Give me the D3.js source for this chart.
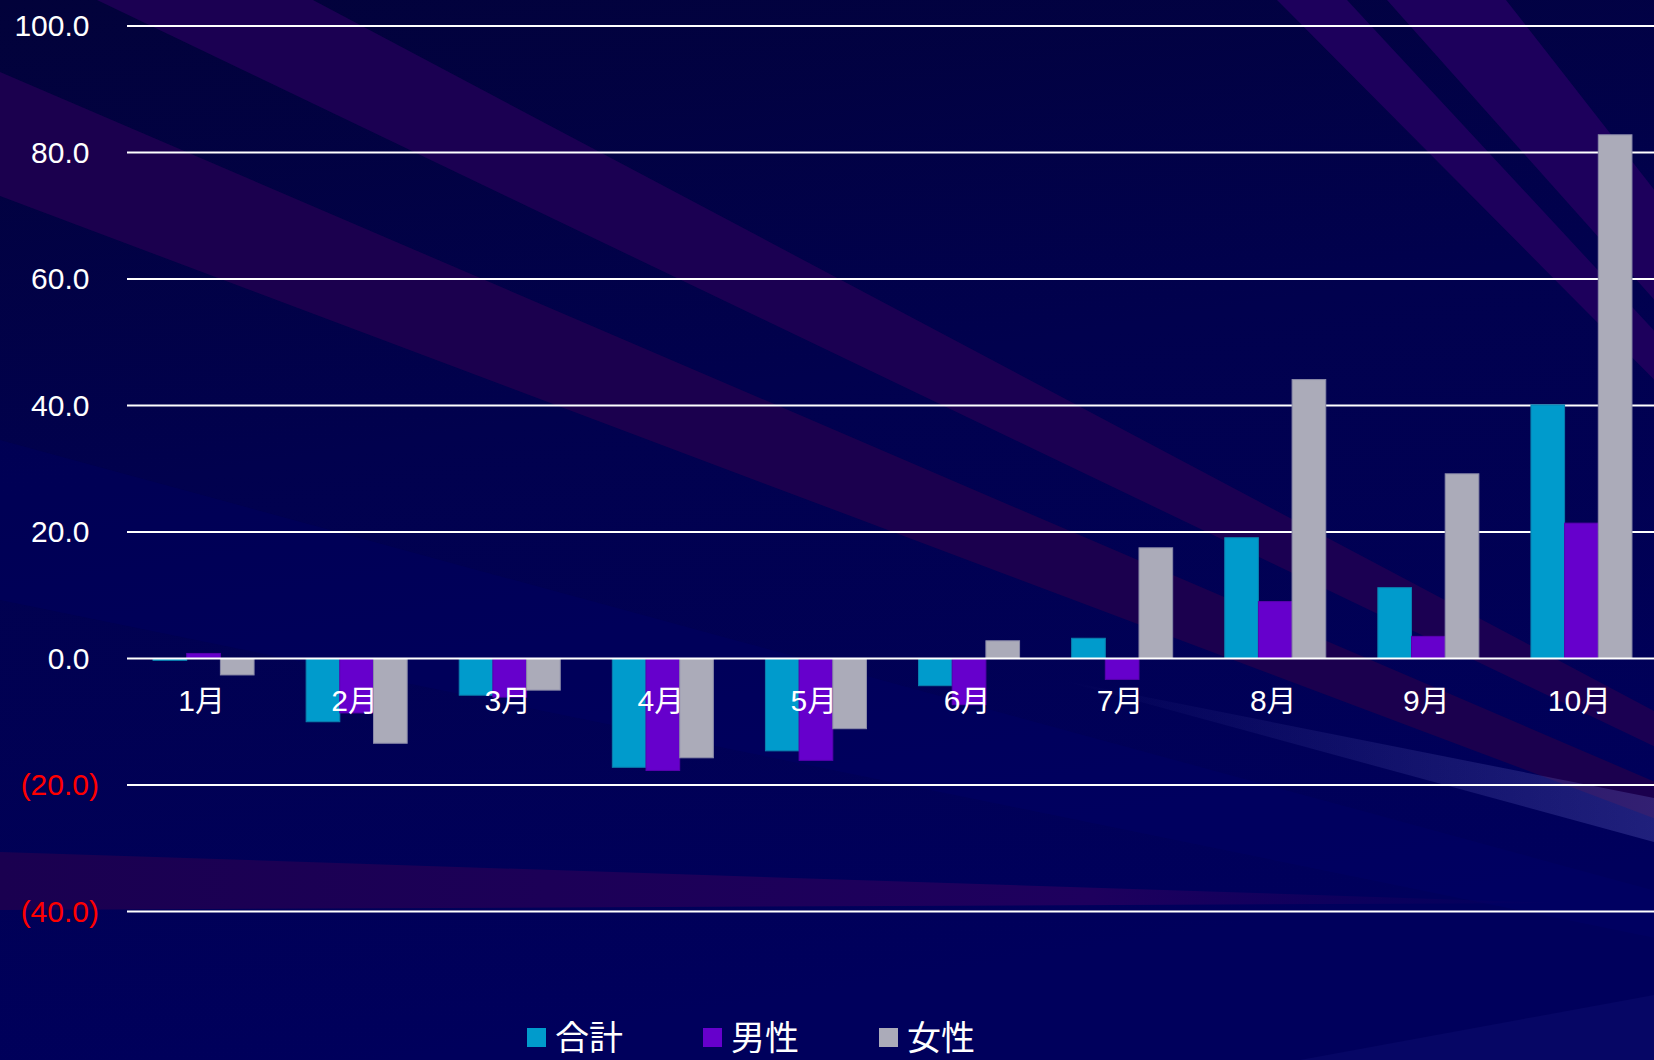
<!DOCTYPE html>
<html>
<head>
<meta charset="utf-8">
<script src="https://cdn.jsdelivr.net/npm/d3@7"></script>
<style>
  html, body { margin: 0; padding: 0; background: #000050; }
  svg { display: block; }
</style>
</head>
<body>
<svg id="chart" width="1654" height="1060"></svg>
<script>
// ---- data ----
const months = ["1月", "2月", "3月", "4月", "5月", "6月", "7月", "8月", "9月", "10月"];
const seriesNames = ["合計", "男性", "女性"];
const totalValues  = [-0.3, -10.0, -5.8, -17.2, -14.6, -4.3, 3.2, 19.1, 11.2, 40.1];
const maleValues   = [0.8, -8.6, -6.1, -17.7, -16.1, -7.3, -3.3, 9.0, 3.5, 21.4];
const femaleValues = [-2.6, -13.4, -5.0, -15.7, -11.1, 2.8, 17.5, 44.1, 29.2, 82.8];
const yTicks = [-40, -20, 0, 20, 40, 60, 80, 100];

// ---- styles ----
const W = 1654, H = 1060;
const colors = ["#009BCC", "#6600CC", "#ABABB9"];
const strokes = ["#0a7fae", "#5a00b0", "#8a8aa8"];
const latin = "'Liberation Sans', Arial, 'Noto Sans CJK JP', sans-serif";
const cjk = "'Noto Sans CJK JP', 'Liberation Sans', sans-serif";

const svg = d3.select("#chart");
const defs = svg.append("defs");

// ---- decorative background ----
const bg = defs.append("linearGradient").attr("id", "bgGrad")
  .attr("x1", "0").attr("y1", "0").attr("x2", "0.25").attr("y2", "1");
bg.append("stop").attr("offset", "0").attr("stop-color", "#02023a");
bg.append("stop").attr("offset", "0.45").attr("stop-color", "#01014e");
bg.append("stop").attr("offset", "1").attr("stop-color", "#00005c");
svg.append("rect").attr("width", W).attr("height", H).attr("fill", "url(#bgGrad)");

const F = [2350, 1080];
function far(p) { return [p[0] + (p[0] - F[0]) * 4, p[1] + (p[1] - F[1]) * 4]; }
const rays = [
  { a: [97, 0], b: [313, 0], c: "#1b0052" },
  { a: [0, 72], b: [0, 196], c: "#1b004e" },
  { a: [1277, 0], b: [1347, 0], c: "#1d005c" },
  { a: [1387, 0], b: [1506, 0], c: "#1d005c" }
];
const bgG = svg.append("g");
// subtle blue glow ray
bgG.append("polygon")
  .attr("points", [F, far([0, 440]), far([0, 600])].map(p => p.join(",")).join(" "))
  .attr("fill", "#00007a").attr("opacity", 0.18);
rays.forEach(r => {
  bgG.append("polygon")
    .attr("points", [F, far(r.a), far(r.b)].map(p => p.join(",")).join(" "))
    .attr("fill", r.c);
});
// lower purple wedge
const lw = defs.append("linearGradient").attr("id", "lowGrad");
lw.append("stop").attr("offset", "0").attr("stop-color", "#1a0050");
lw.append("stop").attr("offset", "0.7").attr("stop-color", "#1e005e");
lw.append("stop").attr("offset", "1").attr("stop-color", "#1e005e").attr("stop-opacity", 0);
bgG.append("polygon").attr("points", "0,852 1560,903 0,910").attr("fill", "url(#lowGrad)");
// light streak lower right
const ls = defs.append("linearGradient").attr("id", "streakGrad");
ls.append("stop").attr("offset", "0").attr("stop-color", "#6a6ac8").attr("stop-opacity", 0);
ls.append("stop").attr("offset", "1").attr("stop-color", "#6a6ac8").attr("stop-opacity", 0.3);
bgG.append("polygon").attr("points", "1060,680 1654,798 1654,842").attr("fill", "url(#streakGrad)");
bgG.append("polygon").attr("points", "1300,1060 1654,995 1654,1060").attr("fill", "#0c0c6e").attr("opacity", 0.5);

// ---- scales ----
const x = d3.scaleBand().domain(months).range([127, 1658]).paddingInner(0.34).paddingOuter(0.17);
const xs = d3.scaleBand().domain(seriesNames).range([0, x.bandwidth()]);
const y = d3.scaleLinear().domain([-40, 100]).range([911.5, 26]);

const fmt = d3.format(".1f");
const label = v => v < 0 ? "(" + fmt(-v) + ")" : fmt(v);

// gridlines
const nonZero = yTicks.filter(t => t !== 0);
svg.append("g").selectAll("line").data(nonZero).join("line")
  .attr("x1", 127).attr("x2", W)
  .attr("y1", d => y(d)).attr("y2", d => y(d))
  .attr("stroke", "#ffffff").attr("stroke-width", 2);

// y labels
svg.append("g").selectAll("text").data(yTicks).join("text")
  .attr("x", d => d < 0 ? 99 : 89.5)
  .attr("y", d => y(d) + 10)
  .attr("text-anchor", "end")
  .attr("font-family", latin).attr("font-size", 30)
  .attr("fill", d => d < 0 ? "#FF0000" : "#FFFFFF")
  .text(label);

// bars
const series = [totalValues, maleValues, femaleValues];
const barG = svg.append("g");
series.forEach((vals, si) => {
  barG.append("g").selectAll("rect").data(vals.map((v, i) => ({ m: months[i], v })))
    .join("rect")
    .attr("x", d => x(d.m) + xs(seriesNames[si]))
    .attr("width", xs.bandwidth())
    .attr("y", d => y(Math.max(0, d.v)))
    .attr("height", d => Math.abs(y(d.v) - y(0)))
    .attr("fill", colors[si])
    .attr("stroke", strokes[si]).attr("stroke-width", 1);
});

// zero axis line
svg.append("line").attr("x1", 127).attr("x2", W).attr("y1", y(0)).attr("y2", y(0))
  .attr("stroke", "#ffffff").attr("stroke-width", 2);

// category labels
svg.append("g").selectAll("text").data(months).join("text")
  .attr("x", d => x(d) + x.bandwidth() / 2 - 2)
  .attr("y", 711)
  .attr("text-anchor", "middle")
  .attr("font-family", latin).attr("font-size", 30)
  .attr("fill", "#FFFFFF")
  .text(d => d);

// legend
const legend = svg.append("g");
seriesNames.forEach((name, i) => {
  const lx = 527 + i * 176;
  legend.append("rect").attr("x", lx).attr("y", 1028).attr("width", 19).attr("height", 19)
    .attr("fill", colors[i]);
  legend.append("text").attr("x", lx + 28).attr("y", 1050)
    .attr("font-family", cjk).attr("font-size", 34).attr("fill", "#FFFFFF")
    .text(name);
});
</script>
</body>
</html>
